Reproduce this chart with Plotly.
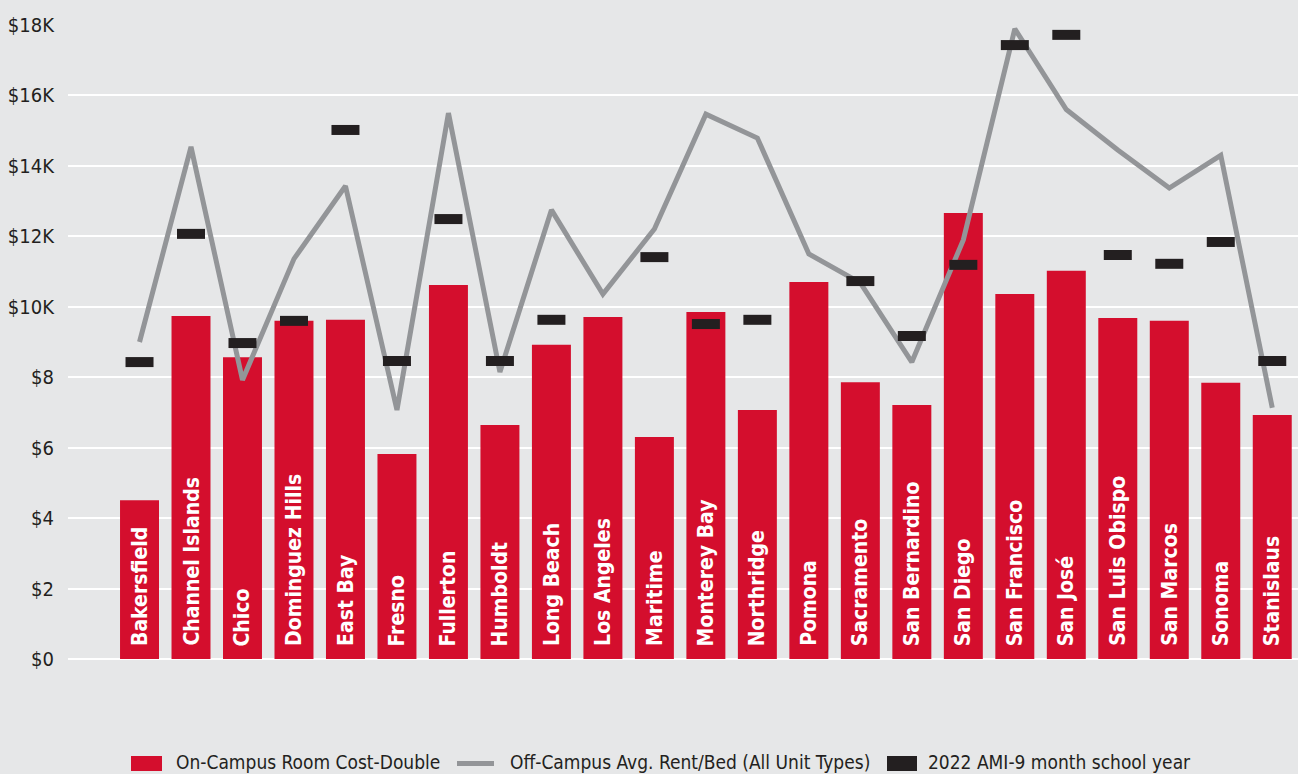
import plotly.graph_objects as go

campuses = ["Bakersfield", "Channel Islands", "Chico", "Dominguez Hills", "East Bay", "Fresno",
            "Fullerton", "Humboldt", "Long Beach", "Los Angeles", "Maritime", "Monterey Bay",
            "Northridge", "Pomona", "Sacramento", "San Bernardino", "San Diego", "San Francisco",
            "San José", "San Luis Obispo", "San Marcos", "Sonoma", "Stanislaus"]

on_campus = [4510, 9740, 8570, 9600, 9630, 5820, 10620, 6640, 8920, 9710, 6300, 9850,
             7070, 10700, 7860, 7210, 12660, 10360, 11020, 9680, 9600, 7840, 6930]

off_campus = [9000, 14540, 7920, 11360, 13430, 7070, 15500, 8150, 12750, 10360, 12210, 15470,
              14790, 11500, 10680, 8430, 11900, 17890, 15600, 14450, 13370, 14300, 7130]

ami = [8430, 12070, 8970, 9600, 15020, 8460, 12490, 8460, 9630, None, 11410, 9510,
       9630, None, 10730, 9170, 11190, 17430, 17720, 11470, 11220, 11840, 8460]

tick_vals = [0, 2000, 4000, 6000, 8000, 10000, 12000, 14000, 16000, 18000]
tick_text = ["$0", "$2", "$4", "$6", "$8", "$10K", "$12K", "$14K", "$16K", "$18K"]

legend_labels = ["On-Campus Room Cost-Double", "Off-Campus Avg. Rent/Bed (All Unit Types)",
                 "2022 AMI-9 month school year"]

RED = "#d40e2d"
GRAY = "#939598"
BLACK = "#231f20"
BG = "#e6e7e8"
FONT = "DejaVu Sans Condensed, Liberation Sans Narrow, sans-serif"

W, H = 1298, 774
ML, MR, MT, MB = 68, 0, 25, 115
PW, PH = W - ML - MR, H - MT - MB


def px(x):
    return (x - ML) / PW


def py(y):
    return (H - MB - y) / PH


fig = go.Figure()
fig.add_trace(go.Bar(x=campuses, y=on_campus, marker=dict(color=RED, line=dict(width=0)),
                     name=legend_labels[0], showlegend=False))
fig.add_trace(go.Scatter(x=campuses, y=off_campus, mode="lines",
                         line=dict(color=GRAY, width=5), name=legend_labels[1], showlegend=False))
fig.add_trace(go.Scatter(x=campuses, y=ami, mode="markers",
                         marker=dict(symbol="line-ew", size=20, color=BLACK,
                                     line=dict(width=10, color=BLACK)),
                         name=legend_labels[2], showlegend=False))

annotations = []
for c in campuses:
    annotations.append(dict(x=c, y=0, xref="x", yref="y", text=c, textangle=-90,
                            showarrow=False, yanchor="bottom", xanchor="center", yshift=11,
                            font=dict(family=FONT, size=21, color="white", weight="bold")))

# custom legend
shapes = [
    dict(type="rect", xref="paper", yref="paper", x0=px(131), x1=px(162), y0=py(771), y1=py(756),
         fillcolor=RED, line=dict(width=0)),
    dict(type="line", xref="paper", yref="paper", x0=px(457), x1=px(494), y0=py(763.5), y1=py(763.5),
         line=dict(color=GRAY, width=5)),
    dict(type="rect", xref="paper", yref="paper", x0=px(887), x1=px(917), y0=py(771), y1=py(756),
         fillcolor=BLACK, line=dict(width=0)),
]
for lx, lab in zip([174, 508, 926], legend_labels):
    annotations.append(dict(x=px(lx), y=py(762), xref="paper", yref="paper", text=lab,
                            showarrow=False, xanchor="left", yanchor="middle",
                            font=dict(family=FONT, size=19, color=BLACK)))

fig.update_layout(
    width=W, height=H,
    margin=dict(l=ML, r=MR, t=MT, b=MB),
    paper_bgcolor=BG, plot_bgcolor=BG,
    bargap=0.243,
    font=dict(family=FONT, size=20, color=BLACK),
    xaxis=dict(range=[-1.389, 22.5], showticklabels=False, showgrid=False, zeroline=False,
               showline=False, ticks=""),
    yaxis=dict(range=[0, 18000], tickvals=tick_vals, ticktext=tick_text, showgrid=True,
               gridcolor="white", gridwidth=2, zeroline=True, zerolinecolor="white",
               zerolinewidth=2, showline=False, ticks="outside", ticklen=9,
               tickcolor="rgba(0,0,0,0)", tickfont=dict(family=FONT, size=20, color=BLACK)),
    shapes=shapes,
    annotations=annotations,
)

fig.write_html("out.html", config={"displayModeBar": False},
               post_script="document.body.style.margin='0';document.body.style.overflow='hidden';"
                           "document.documentElement.style.overflow='hidden';")
